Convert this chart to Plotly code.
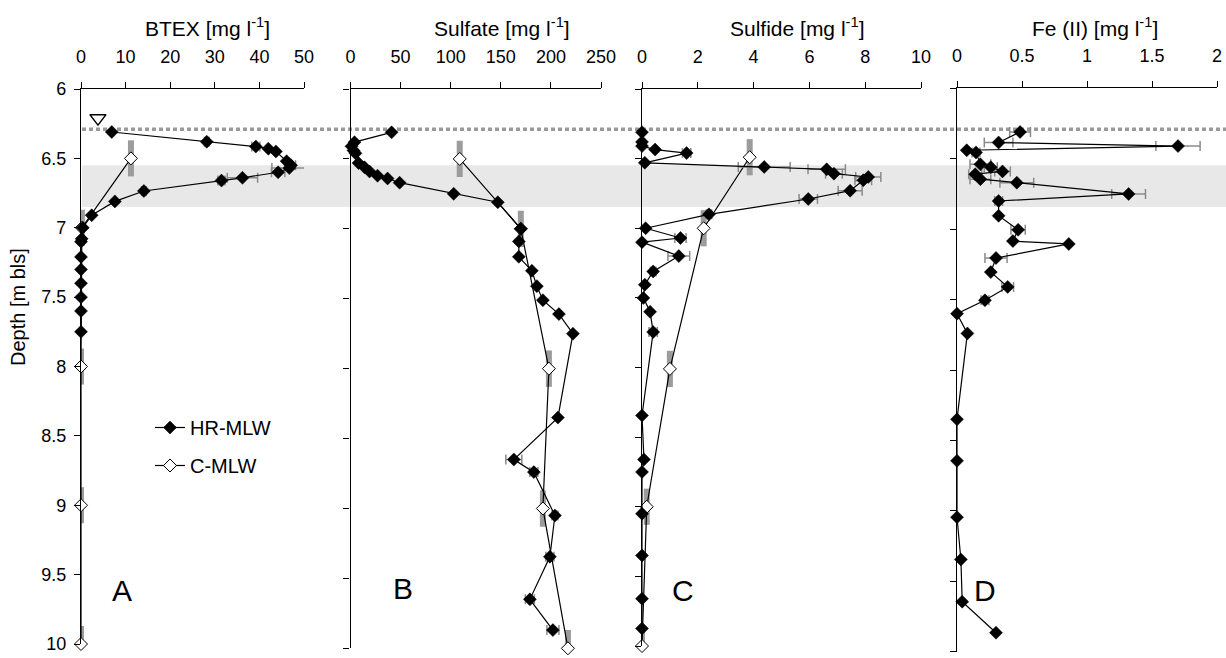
import plotly.graph_objects as go

FONT = "Liberation Sans, Arial, sans-serif"
W, H = 1226, 658

# ---------------- data ----------------
water_table_depth = 6.29
water_table_marker_x = 3.8
water_table_marker_depth = 6.21
band_top, band_bottom = 6.55, 6.85
screen_half = 0.13  # half length of the C-MLW screen interval bars

# Panel A - BTEX [mg/l]
a_hr_depth = [6.31, 6.38, 6.415, 6.43, 6.45, 6.52, 6.55, 6.57, 6.60, 6.64, 6.66, 6.735, 6.81,
              6.91, 7.0, 7.08, 7.10, 7.21, 7.30, 7.40, 7.50, 7.60, 7.75]
a_hr_val = [6.9, 28.2, 39.2, 42.0, 43.7, 46.1, 47.1, 46.7, 44.2, 36.2, 31.5, 14.1, 7.6,
            2.4, 0.4, 0.15, 0.0, 0.0, 0.0, 0.0, 0.0, 0.0, 0.0]
a_hr_err = [None, 0.5, 0.9, None, None, None, 1.0, 3.9, 1.5, 3.4, 0.8, 0.5, None,
            None, None, None, None, None, None, None, None, None, None]
a_c_depth = [6.5, 7.0, 8.0, 9.0, 10.0]
a_c_val = [11.2, 0.2, 0.0, 0.0, 0.0]

# Panel B - Sulfate [mg/l]
b_hr_depth = [6.31, 6.38, 6.41, 6.44, 6.46, 6.53, 6.56, 6.59, 6.62, 6.64, 6.67, 6.75, 6.81,
              7.0, 7.09, 7.20, 7.30, 7.41, 7.51, 7.61, 7.75, 8.35, 8.65, 8.74, 9.05, 9.345,
              9.65, 9.87]
b_hr_val = [41, 4, 1, 3, 5, 8, 14, 19, 27, 37, 49, 103, 147,
            170, 168, 168, 181, 186, 192, 208, 222, 207, 163, 183, 204, 199,
            179, 202]
b_hr_err = [None] * 22 + [8, 4, 3, 4, 4.5, 6]
b_c_depth = [6.5, 7.0, 8.0, 9.0, 10.0]
b_c_val = [109, 170, 198, 192, 217]

# Panel C - Sulfide [mg/l]
c_hr_depth = [6.31, 6.38, 6.41, 6.435, 6.46, 6.53, 6.56, 6.577, 6.608, 6.632, 6.655, 6.73,
              6.79, 6.90, 7.0, 7.07, 7.10, 7.20, 7.31, 7.405, 7.50, 7.60, 7.745, 8.345,
              8.66, 8.75, 9.05, 9.35, 9.66, 9.875]
c_hr_val = [0.0, 0.0, 0.0, 0.47, 1.6, 0.1, 4.38, 6.62, 6.88, 8.11, 7.93, 7.46,
            5.96, 2.4, 0.13, 1.38, 0.0, 1.32, 0.4, 0.1, 0.05, 0.29, 0.4, 0.0,
            0.07, 0.0, 0.0, 0.0, 0.0, 0.0]
c_hr_err = [None, None, None, None, 0.15, None, 0.93, 0.67, 0.3, 0.45, 0.3, 0.43,
            0.33, 0.1, None, 0.2, None, 0.39, 0.1, None, None, None, 0.15, None,
            None, None, None, None, None, None]
c_c_depth = [6.49, 7.0, 8.01, 9.0, 10.0]
c_c_val = [3.86, 2.21, 1.0, 0.17, 0.0]

# Panel D - Fe(II) [mg/l]
d_hr_depth = [6.31, 6.385, 6.41, 6.44, 6.455, 6.54, 6.56, 6.59, 6.61, 6.645, 6.67, 6.75,
              6.80, 6.905, 7.005, 7.085, 7.105, 7.205, 7.305, 7.41, 7.505, 7.60, 7.74,
              8.35, 8.645, 9.045, 9.345, 9.645, 9.865]
d_hr_val = [0.485, 0.32, 1.70, 0.075, 0.146, 0.18, 0.26, 0.35, 0.14, 0.18, 0.46, 1.32,
            0.32, 0.32, 0.47, 0.43, 0.86, 0.30, 0.26, 0.39, 0.215, 0.0, 0.08,
            0.0, 0.0, 0.0, 0.03, 0.04, 0.30]
d_hr_err = [0.08, 0.11, 0.17, None, 0.03, 0.08, 0.05, 0.06, 0.05, 0.08, 0.13, 0.13,
            0.03, None, 0.055, None, None, 0.085, None, 0.045, 0.03, None, None,
            None, None, None, None, None, None]

titles = ["BTEX [mg l<sup>-1</sup>]", "Sulfate [mg l<sup>-1</sup>]",
          "Sulfide [mg l<sup>-1</sup>]", "Fe (II) [mg l<sup>-1</sup>]"]
panel_letters = ["A", "B", "C", "D"]
x_ranges = [[0, 50], [0, 250], [0, 10], [0, 2]]
x_dticks = [10, 50, 2, 0.5]
series_names = ["HR-MLW", "C-MLW"]

# ---------------- layout geometry (pixels) ----------------
x_dom_px = [(81, 304), (350.5, 601), (642, 921), (957, 1217)]
y_dom_px = [(89, 644), (89, 648.3), (89, 646), (88.3, 651.7)]
title_x_px = [207, 502, 797, 1095]
letter_pos_px = [(122, 590), (403, 588), (683, 590), (985, 590)]

def px_x(p):
    return p / W

def px_y(p):
    return 1 - p / H

fig = go.Figure()

panels = [
    (a_hr_depth, a_hr_val, a_hr_err, a_c_depth, a_c_val),
    (b_hr_depth, b_hr_val, b_hr_err, b_c_depth, b_c_val),
    (c_hr_depth, c_hr_val, c_hr_err, c_c_depth, c_c_val),
    (d_hr_depth, d_hr_val, d_hr_err, None, None),
]

for i, (hd, hv, he, cd, cv) in enumerate(panels):
    xa = "x" if i == 0 else f"x{i+1}"
    ya = "y" if i == 0 else f"y{i+1}"
    if cd is not None:
        # screen interval bars (grey) behind C-MLW points
        bx, by = [], []
        for v, d in zip(cv, cd):
            bx += [v, v, None]
            by += [d - screen_half, d + screen_half, None]
        fig.add_trace(go.Scatter(x=bx, y=by, mode="lines", xaxis=xa, yaxis=ya,
                                 line=dict(color="#9c9c9c", width=6),
                                 showlegend=False, hoverinfo="skip", cliponaxis=False))
        fig.add_trace(go.Scatter(x=cv, y=cd, mode="lines+markers", xaxis=xa, yaxis=ya,
                                 name=series_names[1], legendrank=2, legendgroup="c",
                                 showlegend=(i == 0),
                                 line=dict(color="black", width=1.2),
                                 marker=dict(symbol="diamond", size=10, color="white",
                                             line=dict(color="black", width=1)),
                                 cliponaxis=False))
    fig.add_trace(go.Scatter(x=hv, y=hd, mode="lines+markers", xaxis=xa, yaxis=ya,
                             name=series_names[0], legendrank=1, legendgroup="hr",
                             showlegend=(i == 0),
                             line=dict(color="black", width=1.2),
                             marker=dict(symbol="diamond", size=10, color="black",
                                         line=dict(color="black", width=0.5)),
                             error_x=dict(type="data", array=he, color="#8a8a8a",
                                          thickness=1.5, width=5),
                             cliponaxis=False))

# water table symbol
fig.add_trace(go.Scatter(x=[water_table_marker_x], y=[water_table_marker_depth],
                         mode="markers", xaxis="x", yaxis="y", showlegend=False,
                         marker=dict(symbol="triangle-down-open", size=14,
                                     color="black", line=dict(width=1.5)),
                         hoverinfo="skip", cliponaxis=False))

layout = dict(
    width=W, height=H, margin=dict(l=0, r=0, t=0, b=0, autoexpand=False),
    paper_bgcolor="white", plot_bgcolor="rgba(0,0,0,0)",
    font=dict(family=FONT, color="black"),
    showlegend=True,
    legend=dict(x=px_x(150), y=px_y(408), xanchor="left", yanchor="top",
                font=dict(size=20, family=FONT, color="black"),
                bgcolor="rgba(0,0,0,0)", tracegroupgap=9, itemwidth=30),
)

for i in range(4):
    xk = "xaxis" if i == 0 else f"xaxis{i+1}"
    yk = "yaxis" if i == 0 else f"yaxis{i+1}"
    ya = "y" if i == 0 else f"y{i+1}"
    xa = "x" if i == 0 else f"x{i+1}"
    layout[xk] = dict(domain=[px_x(x_dom_px[i][0]), px_x(x_dom_px[i][1])],
                      range=x_ranges[i], dtick=x_dticks[i], tick0=0,
                      side="top", anchor=ya, showline=True, linecolor="black",
                      linewidth=1.3, ticks="outside", ticklen=6, tickwidth=1.3,
                      tickcolor="black", showgrid=False, zeroline=False,
                      tickfont=dict(size=18, family=FONT, color="black"),
                      ticklabelstandoff=12, automargin=False)
    layout[yk] = dict(domain=[px_y(y_dom_px[i][1]), px_y(y_dom_px[i][0])],
                      range=[10, 6], dtick=0.5, tick0=6, anchor=xa,
                      showline=True, linecolor="black", linewidth=1.3,
                      ticks="outside", ticklen=6, tickwidth=1.3, tickcolor="black",
                      showgrid=False, zeroline=False, showticklabels=(i == 0),
                      tickfont=dict(size=18, family=FONT, color="black"),
                      ticklabelstandoff=4, automargin=False)

fig.update_layout(**layout)

# grey band and water table line
fig.add_shape(type="rect", xref="paper", yref="y", x0=px_x(82), x1=1,
              y0=band_top, y1=band_bottom, fillcolor="#e8e8e8",
              line=dict(width=0), layer="below")
fig.add_shape(type="line", xref="paper", yref="y", x0=px_x(82), x1=1,
              y0=water_table_depth, y1=water_table_depth,
              line=dict(color="#9a9a9a", width=3.5, dash="4px,3px"), layer="below")

# axis titles and panel letters
for i in range(4):
    fig.add_annotation(text=titles[i], xref="paper", yref="paper",
                       x=px_x(title_x_px[i]), y=px_y(27), xanchor="center",
                       yanchor="middle", showarrow=False,
                       font=dict(size=21, family=FONT, color="black"))
    fig.add_annotation(text=panel_letters[i], xref="paper", yref="paper",
                       x=px_x(letter_pos_px[i][0]), y=px_y(letter_pos_px[i][1]),
                       xanchor="center", yanchor="middle", showarrow=False,
                       font=dict(size=30, family=FONT, color="black"))

fig.add_annotation(text="Depth [m bls]", xref="paper", yref="paper",
                   x=px_x(18), y=px_y(307), textangle=-90, showarrow=False,
                   xanchor="center", yanchor="middle",
                   font=dict(size=20, family=FONT, color="black"))

fig.write_html("out.html")
